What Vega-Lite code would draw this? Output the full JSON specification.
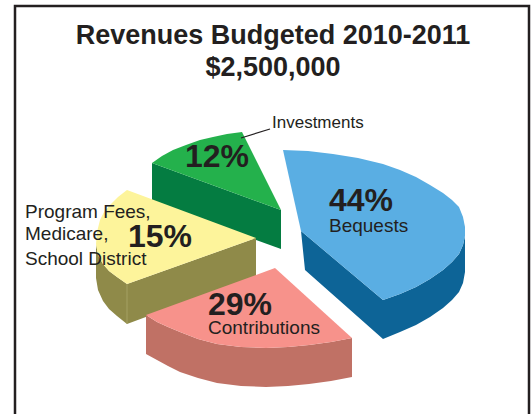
{"$schema":"https://vega.github.io/schema/vega-lite/v6.json","width":532,"height":414,"padding":0,"autosize":"none","background":"white","view":{"stroke":null},
"datasets":{"faces":[
{"face":"Investments side","n":1,"x":152,"y":163},{"face":"Investments side","n":2,"x":281,"y":210},{"face":"Investments side","n":3,"x":281,"y":249},{"face":"Investments side","n":4,"x":152,"y":202},
{"face":"Investments top","n":1,"x":152,"y":163},{"face":"Investments top","n":2,"x":162,"y":156},{"face":"Investments top","n":3,"x":173,"y":150},{"face":"Investments top","n":4,"x":186,"y":145},{"face":"Investments top","n":5,"x":200,"y":140},{"face":"Investments top","n":6,"x":213,"y":137},{"face":"Investments top","n":7,"x":227,"y":134},{"face":"Investments top","n":8,"x":242,"y":132},{"face":"Investments top","n":9,"x":281,"y":210},
{"face":"Program side","n":1,"x":96,"y":244},{"face":"Program side","n":2,"x":98,"y":255},{"face":"Program side","n":3,"x":103,"y":264},{"face":"Program side","n":4,"x":109,"y":271},{"face":"Program side","n":5,"x":117,"y":277},{"face":"Program side","n":6,"x":127,"y":284},{"face":"Program side","n":7,"x":256,"y":238},{"face":"Program side","n":8,"x":256,"y":276},{"face":"Program side","n":9,"x":127,"y":324},{"face":"Program side","n":10,"x":117,"y":316},{"face":"Program side","n":11,"x":109,"y":309},{"face":"Program side","n":12,"x":103,"y":301},{"face":"Program side","n":13,"x":98,"y":290},{"face":"Program side","n":14,"x":96,"y":278},
{"face":"Program top","n":1,"x":127,"y":190},{"face":"Program top","n":2,"x":118,"y":197},{"face":"Program top","n":3,"x":110,"y":205},{"face":"Program top","n":4,"x":104,"y":212},{"face":"Program top","n":5,"x":100,"y":220},{"face":"Program top","n":6,"x":97,"y":232},{"face":"Program top","n":7,"x":96,"y":244},{"face":"Program top","n":8,"x":98,"y":255},{"face":"Program top","n":9,"x":103,"y":264},{"face":"Program top","n":10,"x":109,"y":271},{"face":"Program top","n":11,"x":117,"y":277},{"face":"Program top","n":12,"x":127,"y":284},{"face":"Program top","n":13,"x":256,"y":238},
{"face":"Contributions side","n":1,"x":146,"y":315},{"face":"Contributions side","n":2,"x":157,"y":322},{"face":"Contributions side","n":3,"x":168,"y":327},{"face":"Contributions side","n":4,"x":180,"y":332},{"face":"Contributions side","n":5,"x":198,"y":339},{"face":"Contributions side","n":6,"x":217,"y":344},{"face":"Contributions side","n":7,"x":241,"y":347},{"face":"Contributions side","n":8,"x":266,"y":348},{"face":"Contributions side","n":9,"x":288,"y":347},{"face":"Contributions side","n":10,"x":309,"y":345},{"face":"Contributions side","n":11,"x":331,"y":342},{"face":"Contributions side","n":12,"x":352,"y":338},{"face":"Contributions side","n":13,"x":352,"y":377},{"face":"Contributions side","n":14,"x":331,"y":381},{"face":"Contributions side","n":15,"x":309,"y":384},{"face":"Contributions side","n":16,"x":288,"y":386},{"face":"Contributions side","n":17,"x":266,"y":387},{"face":"Contributions side","n":18,"x":241,"y":386},{"face":"Contributions side","n":19,"x":217,"y":383},{"face":"Contributions side","n":20,"x":198,"y":378},{"face":"Contributions side","n":21,"x":180,"y":372},{"face":"Contributions side","n":22,"x":168,"y":366},{"face":"Contributions side","n":23,"x":157,"y":360},{"face":"Contributions side","n":24,"x":146,"y":354},
{"face":"Contributions top","n":1,"x":146,"y":315},{"face":"Contributions top","n":2,"x":275,"y":268},{"face":"Contributions top","n":3,"x":352,"y":338},{"face":"Contributions top","n":4,"x":331,"y":342},{"face":"Contributions top","n":5,"x":309,"y":345},{"face":"Contributions top","n":6,"x":288,"y":347},{"face":"Contributions top","n":7,"x":266,"y":348},{"face":"Contributions top","n":8,"x":241,"y":347},{"face":"Contributions top","n":9,"x":217,"y":344},{"face":"Contributions top","n":10,"x":198,"y":339},{"face":"Contributions top","n":11,"x":180,"y":332},{"face":"Contributions top","n":12,"x":168,"y":327},{"face":"Contributions top","n":13,"x":157,"y":322},
{"face":"Bequests side","n":1,"x":301,"y":231},{"face":"Bequests side","n":2,"x":383,"y":300},{"face":"Bequests side","n":3,"x":400,"y":294},{"face":"Bequests side","n":4,"x":416,"y":287},{"face":"Bequests side","n":5,"x":430,"y":279},{"face":"Bequests side","n":6,"x":443,"y":270},{"face":"Bequests side","n":7,"x":452,"y":262},{"face":"Bequests side","n":8,"x":459,"y":254},{"face":"Bequests side","n":9,"x":463,"y":245},{"face":"Bequests side","n":10,"x":465,"y":236},{"face":"Bequests side","n":11,"x":465,"y":272},{"face":"Bequests side","n":12,"x":463,"y":283},{"face":"Bequests side","n":13,"x":459,"y":292},{"face":"Bequests side","n":14,"x":452,"y":300},{"face":"Bequests side","n":15,"x":443,"y":308},{"face":"Bequests side","n":16,"x":430,"y":317},{"face":"Bequests side","n":17,"x":416,"y":325},{"face":"Bequests side","n":18,"x":400,"y":332},{"face":"Bequests side","n":19,"x":383,"y":339},{"face":"Bequests side","n":20,"x":305,"y":270},
{"face":"Bequests top","n":1,"x":283,"y":150},{"face":"Bequests top","n":2,"x":308,"y":151},{"face":"Bequests top","n":3,"x":333,"y":154},{"face":"Bequests top","n":4,"x":358,"y":158},{"face":"Bequests top","n":5,"x":383,"y":164},{"face":"Bequests top","n":6,"x":400,"y":170},{"face":"Bequests top","n":7,"x":416,"y":177},{"face":"Bequests top","n":8,"x":430,"y":185},{"face":"Bequests top","n":9,"x":443,"y":193},{"face":"Bequests top","n":10,"x":452,"y":200},{"face":"Bequests top","n":11,"x":459,"y":207},{"face":"Bequests top","n":12,"x":463,"y":217},{"face":"Bequests top","n":13,"x":465,"y":227},{"face":"Bequests top","n":14,"x":465,"y":236},{"face":"Bequests top","n":15,"x":463,"y":245},{"face":"Bequests top","n":16,"x":459,"y":254},{"face":"Bequests top","n":17,"x":452,"y":262},{"face":"Bequests top","n":18,"x":443,"y":270},{"face":"Bequests top","n":19,"x":430,"y":279},{"face":"Bequests top","n":20,"x":416,"y":287},{"face":"Bequests top","n":21,"x":400,"y":294},{"face":"Bequests top","n":22,"x":383,"y":300},{"face":"Bequests top","n":23,"x":301,"y":231}
],
"lines":[
{"id":"frame","n":1,"x":15,"y":414},{"id":"frame","n":2,"x":15,"y":6},{"id":"frame","n":3,"x":529,"y":6},{"id":"frame","n":4,"x":529,"y":414}
],
"leader":[{"id":"leader","n":1,"x":241,"y":138},{"id":"leader","n":2,"x":270,"y":129}],
"seam":[{"id":"seam","n":1,"x":127,"y":284},{"id":"seam","n":2,"x":127,"y":324}],
"title":[{"x":273,"y":44,"t":"Revenues Budgeted 2010-2011"},{"x":273,"y":76,"t":"$2,500,000"}],
"pct":[{"x":185,"y":167,"t":"12%"},{"x":329,"y":211,"t":"44%"},{"x":128,"y":247,"t":"15%"},{"x":208,"y":315,"t":"29%"}],
"invest":[{"x":272,"y":128,"t":"Investments"}],
"labels":[{"x":329,"y":232,"t":"Bequests"},{"x":208,"y":334,"t":"Contributions"},{"x":25,"y":218,"t":"Program Fees,"},{"x":25,"y":240,"t":"Medicare,"},{"x":25,"y":265,"t":"School District"}]
},
"encoding":{
"x":{"field":"x","type":"quantitative","scale":{"domain":[0,532],"nice":false,"zero":false},"axis":null},
"y":{"field":"y","type":"quantitative","scale":{"domain":[414,0],"nice":false,"zero":false},"axis":null}
},
"layer":[
{"data":{"name":"faces"},"mark":{"type":"line","filled":true,"strokeWidth":0,"interpolate":"linear"},"encoding":{"order":{"field":"n","type":"quantitative"},"color":{"field":"face","type":"nominal","legend":null,"sort":null,"scale":{"domain":["Investments side","Investments top","Program side","Program top","Contributions side","Contributions top","Bequests side","Bequests top"],"range":["#047c41","#24b14c","#8f8a49","#fdf49b","#c07165","#f7928b","#0d6497","#5aaee3"]}}}},
{"data":{"name":"seam"},"mark":{"type":"line","color":"#aaa66a","strokeWidth":0.8},"encoding":{"order":{"field":"n","type":"quantitative"}}},
{"data":{"name":"lines"},"mark":{"type":"line","color":"#231f20","strokeWidth":2.5},"encoding":{"order":{"field":"n","type":"quantitative"}}},
{"data":{"name":"leader"},"mark":{"type":"line","color":"#231f20","strokeWidth":1.2},"encoding":{"order":{"field":"n","type":"quantitative"}}},
{"data":{"name":"title"},"mark":{"type":"text","font":"Liberation Sans","fontWeight":"bold","fontSize":27,"color":"#231f20","align":"center","baseline":"alphabetic"},"encoding":{"text":{"field":"t"}}},
{"data":{"name":"pct"},"mark":{"type":"text","font":"Liberation Sans","fontWeight":"bold","fontSize":32,"color":"#231f20","align":"left","baseline":"alphabetic"},"encoding":{"text":{"field":"t"}}},
{"data":{"name":"invest"},"mark":{"type":"text","font":"Liberation Sans","fontSize":17,"color":"#231f20","align":"left","baseline":"alphabetic"},"encoding":{"text":{"field":"t"}}},
{"data":{"name":"labels"},"mark":{"type":"text","font":"Liberation Sans","fontSize":19,"color":"#231f20","align":"left","baseline":"alphabetic"},"encoding":{"text":{"field":"t"}}}
]}
